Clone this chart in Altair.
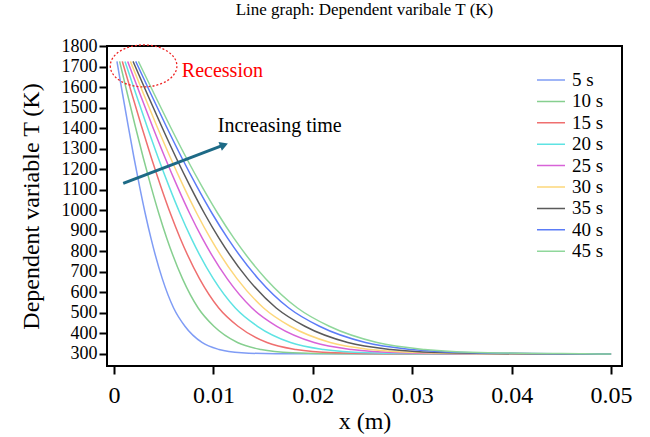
import altair as alt
import pandas as pd

# ---------------- data ----------------
series = ["5 s", "10 s", "15 s", "20 s", "25 s", "30 s", "35 s", "40 s", "45 s"]
colors = ["#7f9cf5", "#86cf8f", "#ef6f6f", "#5ee3e3", "#d863d8",
          "#fdd77a", "#5a5a5a", "#5b7cf7", "#8fd79b"]

# temperature levels (K) shared by all curves
T_levels = [1725, 1565, 1408, 1257, 1115, 983, 864, 667, 524, 435, 356, 322, 306, 301, 300]

# x positions (m) at which each curve reaches the levels above
x_5s = [0.0003, 0.00087, 0.00144, 0.00201, 0.00258, 0.00315, 0.00372, 0.00486, 0.006, 0.00714, 0.00885, 0.01056, 0.01284, 0.01626, 0.05]
x_10s = [0.00057, 0.00136, 0.00215, 0.00294, 0.00373, 0.00452, 0.00531, 0.00689, 0.00847, 0.01005, 0.01242, 0.01479, 0.01795, 0.02269, 0.05]
x_15s = [0.00084, 0.00181, 0.00278, 0.00375, 0.00472, 0.00569, 0.00666, 0.0086, 0.01054, 0.01248, 0.01539, 0.0183, 0.02218, 0.028, 0.05]
x_20s = [0.00111, 0.00222, 0.00333, 0.00444, 0.00555, 0.00666, 0.00777, 0.00999, 0.01221, 0.01443, 0.01776, 0.02109, 0.02553, 0.03219, 0.05]
x_25s = [0.00138, 0.00263, 0.00388, 0.00513, 0.00638, 0.00763, 0.00888, 0.01138, 0.01388, 0.01638, 0.02013, 0.02388, 0.02888, 0.03638, 0.05]
x_30s = [0.00165, 0.00299, 0.00433, 0.00567, 0.00701, 0.00835, 0.00969, 0.01237, 0.01505, 0.01773, 0.02175, 0.02577, 0.03113, 0.03917, 0.05]
x_35s = [0.00192, 0.00336, 0.0048, 0.00624, 0.00768, 0.00912, 0.01056, 0.01344, 0.01632, 0.0192, 0.02352, 0.02784, 0.0336, 0.04224, 0.05]
x_40s = [0.00219, 0.00373, 0.00527, 0.00681, 0.00835, 0.00989, 0.01143, 0.01451, 0.01759, 0.02067, 0.02529, 0.02991, 0.03607, 0.04531, 0.05]
x_45s = [0.00246, 0.00406, 0.00566, 0.00726, 0.00886, 0.01046, 0.01206, 0.01526, 0.01846, 0.02166, 0.02646, 0.03126, 0.03766, 0.04726, 0.05]
x_lists = [x_5s, x_10s, x_15s, x_20s, x_25s, x_30s, x_35s, x_40s, x_45s]

x_ticks = [0, 0.01, 0.02, 0.03, 0.04, 0.05]
y_ticks = [300, 400, 500, 600, 700, 800, 900, 1000, 1100, 1200, 1300, 1400, 1500, 1600, 1700, 1800]

# annotations (data coordinates)
arrow_tail = (0.00093, 1131)
arrow_head = (0.01107, 1318)
ellipse_center = (0.00298, 1703)
label_time = (0.01045, 1381, "Increasing time")
label_rec = (0.00683, 1649, "Recession")

FONT = "Liberation Serif"

rows = []
for name, xs in zip(series, x_lists):
    for xv, tv in zip(xs, T_levels):
        rows.append({"series": name, "x": xv, "T": tv})
df = pd.DataFrame(rows)

xscale = alt.Scale(domain=[-0.0007, 0.0511], nice=False, zero=False)
yscale = alt.Scale(domain=[241.5, 1800], nice=False, zero=False)

x_axis = alt.Axis(values=x_ticks, format="~g", title="x (m)",
                  labelFontSize=24, titleFontSize=24, labelPadding=9,
                  titlePadding=2, tickSize=8, tickWidth=2,
                  labelFlush=False, labelOverlap=False)
y_axis = alt.Axis(values=y_ticks, format="d", title="Dependent variable T (K)",
                  labelFontSize=18, titleFontSize=24, labelPadding=2,
                  titlePadding=18, tickSize=8, tickWidth=2,
                  labelFlush=False, labelOverlap=False, labelBound=False)

lines = alt.Chart(df).mark_line(strokeWidth=1.5, interpolate="monotone", clip=True).encode(
    x=alt.X("x:Q", scale=xscale, axis=x_axis),
    y=alt.Y("T:Q", scale=yscale, axis=y_axis),
    color=alt.Color("series:N", sort=series,
                    scale=alt.Scale(domain=series, range=colors),
                    legend=alt.Legend(title=None, orient="none", legendX=429, legendY=24,
                                      symbolType="stroke", symbolSize=784,
                                      symbolStrokeWidth=1.5, labelFontSize=19,
                                      labelFont=FONT, labelColor="black", labelOffset=6,
                                      clipHeight=20, rowPadding=1.4, padding=0)),
)

arrow_df = pd.DataFrame([{"x": arrow_tail[0], "T": arrow_tail[1],
                          "x2": arrow_head[0], "T2": arrow_head[1]}])
arrow_line = alt.Chart(arrow_df).mark_rule(color="#1d6a86", strokeWidth=3).encode(
    x=alt.X("x:Q", scale=xscale, axis=x_axis), y=alt.Y("T:Q", scale=yscale, axis=y_axis),
    x2="x2:Q", y2="T2:Q")
arrow_tip = alt.Chart(arrow_df).mark_point(shape="triangle-up", filled=True, size=90,
                                           color="#1d6a86", opacity=1, angle=69).encode(
    x=alt.X("x2:Q", scale=xscale, axis=x_axis), y=alt.Y("T2:Q", scale=yscale, axis=y_axis))

ell_df = pd.DataFrame([{"x": ellipse_center[0], "T": ellipse_center[1]}])
ellipse = alt.Chart(ell_df).mark_point(
    shape="M-1,0A1,0.63,0,1,0,1,0A1,0.63,0,1,0,-1,0Z", size=4435, filled=False,
    stroke="#ee2222", strokeWidth=1.3, strokeDash=[2, 2], opacity=1).encode(
    x=alt.X("x:Q", scale=xscale, axis=x_axis), y=alt.Y("T:Q", scale=yscale, axis=y_axis))

txt_df = pd.DataFrame([{"x": label_time[0], "T": label_time[1], "t": label_time[2], "c": "black"},
                       {"x": label_rec[0], "T": label_rec[1], "t": label_rec[2], "c": "red"}])
texts = alt.Chart(txt_df).mark_text(align="left", baseline="alphabetic", font=FONT,
                                    fontSize=20).encode(
    x=alt.X("x:Q", scale=xscale, axis=x_axis), y=alt.Y("T:Q", scale=yscale, axis=y_axis),
    text="t:N", color=alt.Color("c:N", scale=None))

chart = alt.layer(lines, arrow_line, arrow_tip, ellipse, texts).properties(
    width=515, height=320,
    title=alt.TitleParams("Line graph: Dependent varibale T (K)", font=FONT,
                          fontSize=17, fontWeight="normal", offset=18, color="black"),
    autosize=alt.AutoSizeParams(type="none"),
    padding={"left": 107, "top": 46, "right": 28, "bottom": 71},
).configure(background="white").configure_view(
    stroke="black", strokeWidth=2
).configure_axis(
    grid=False, domain=False, labelFont=FONT, titleFont=FONT, labelColor="black",
    titleColor="black", tickColor="black", titleFontWeight="normal",
    labelOverlap=False, labelFlush=False
)

chart.save("out.html", embed_options={"renderer": "svg", "actions": False})
